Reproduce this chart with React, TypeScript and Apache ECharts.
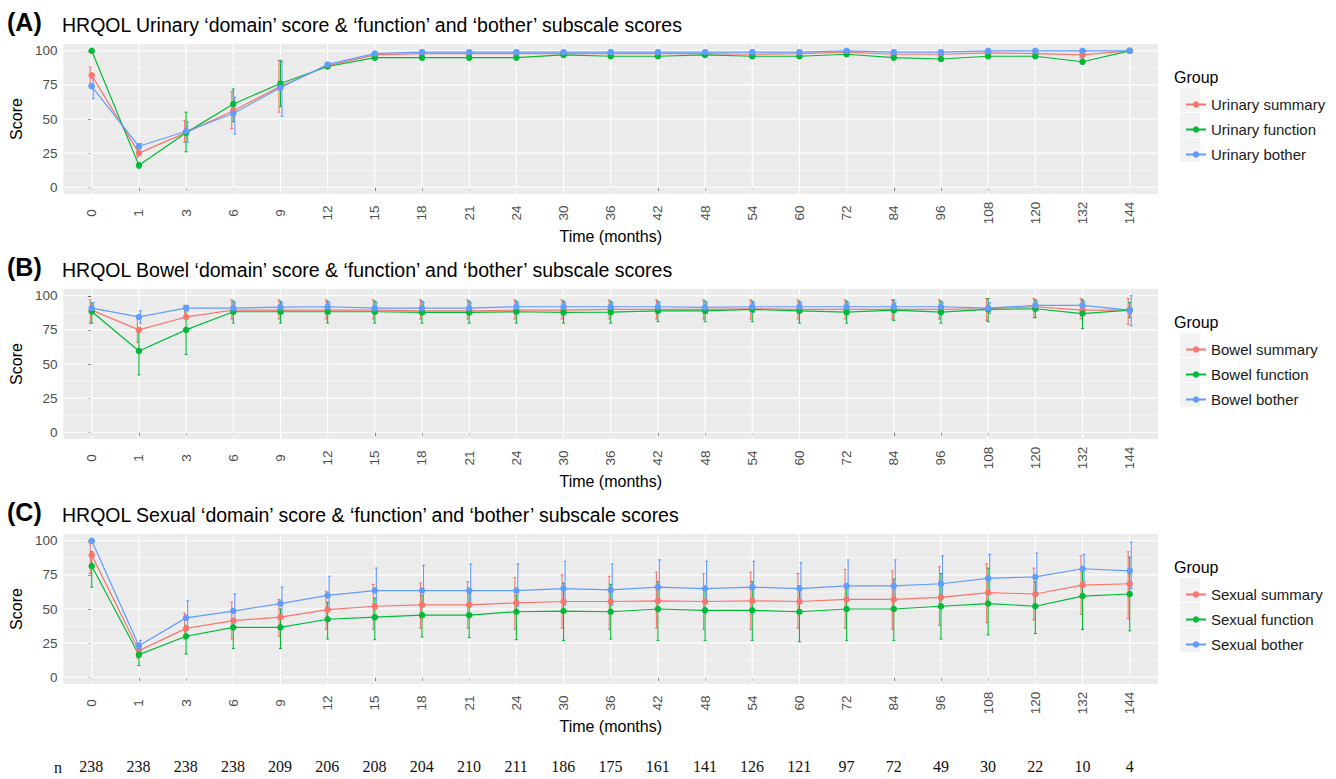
import React, { useEffect, useRef } from 'react';
import * as echarts from 'echarts';

const months = ['0', '1', '3', '6', '9', '12', '15', '18', '21', '24', '30', '36', '42', '48', '54', '60', '72', '84', '96', '108', '120', '132', '144'];
const nCounts = [238, 238, 238, 238, 209, 206, 208, 204, 210, 211, 186, 175, 161, 141, 126, 121, 97, 72, 49, 30, 22, 10, 4];
const yTicks = [0, 25, 50, 75, 100];
const yMinor = [12.5, 37.5, 62.5, 87.5];

// Panel A - Urinary
const urinarySummary = [82, 25, 40, 56, 74, 89, 97, 98, 98, 98, 98, 98, 98, 98, 97.5, 98, 99, 97.5, 97.5, 98.5, 98, 97, 100];
const urinarySummaryLow = [76, 22, 33, 43, 55, 87, 95.5, 96.5, 96.5, 96.5, 96.5, 96.5, 96.5, 96.5, 96, 96.5, 97.5, 96, 96, 97, 96.5, 95, 100];
const urinarySummaryHigh = [88, 28, 49, 70, 93, 91, 98.5, 99, 99, 99, 99, 99, 99, 99, 99, 99, 100, 99, 99, 100, 99.5, 99, 100];
const urinaryFunction = [100, 16, 40, 61, 76, 88.5, 95, 95, 95, 95, 97, 96, 96, 97, 96, 96, 97.5, 95, 94, 96, 96, 92, 100];
const urinaryFunctionLow = [100, 14, 26, 48, 59, 87, 93.5, 93.5, 93.5, 93.5, 95.5, 94.5, 94.5, 95.5, 94.5, 94.5, 96, 93.5, 92.5, 94.5, 94.5, 90, 100];
const urinaryFunctionHigh = [100, 18, 55, 72, 93, 90, 96.5, 96.5, 96.5, 96.5, 98.5, 97.5, 97.5, 98.5, 97.5, 97.5, 99, 96.5, 95.5, 97.5, 97.5, 94, 100];
const urinaryBother = [74, 30, 41, 54, 73, 90, 98, 99, 99, 99, 99, 99, 99, 99, 99, 99, 100, 99, 99, 100, 100, 100, 100];
const urinaryBotherLow = [65, 28, 33, 39, 52, 89, 97, 98, 98, 98, 98, 98, 98, 98, 98, 98, 99, 98, 98, 99, 99, 99, 100];
const urinaryBotherHigh = [80, 32, 48, 66, 92, 91, 99, 100, 100, 100, 100, 100, 100, 100, 100, 100, 100, 100, 100, 100, 100, 100, 100];

// Panel B - Bowel
const bowelSummary = [89.5, 75, 84.5, 89.5, 89.5, 89.5, 89.5, 89, 89, 89.5, 89.5, 90, 90, 90, 90.5, 90, 90, 90, 90, 90.5, 92, 89.5, 89.5];
const bowelSummaryLow = [80, 66, 84, 83, 83, 83, 83, 83, 83, 83, 83, 83, 83, 83, 83, 83, 83, 83, 83, 82, 84, 83, 79];
const bowelSummaryHigh = [97, 84, 93, 97, 97, 97, 97, 97, 97, 97, 97, 97, 97, 97, 97, 97, 97, 97, 97, 98, 98, 98, 98];
const bowelFunction = [88.5, 59.5, 75, 88.3, 88.3, 88.3, 88.3, 87.8, 87.8, 88.3, 87.8, 88, 89, 89, 90, 89, 88, 89.5, 88, 90, 90.5, 87, 89.5];
const bowelFunctionLow = [80, 42, 57, 80, 80, 80, 80, 80, 80, 80, 80, 80, 81, 81, 81, 80, 80, 82, 80, 81, 84, 76, 84];
const bowelFunctionHigh = [95, 76, 92, 96, 96, 96, 96, 96, 96, 96, 96, 96, 96, 96, 96, 96, 96, 97, 96, 98, 97, 97, 95];
const bowelBother = [91, 84.5, 91, 91, 91.7, 92, 91, 91, 91, 92, 92, 92, 92, 91.5, 92, 92, 92, 92, 92, 91, 93, 93, 89.5];
const bowelBotherLow = [87, 80, 89, 87, 87, 87, 87, 87, 87, 88, 88, 88, 88, 87, 88, 88, 88, 88, 88, 87, 89, 90, 78];
const bowelBotherHigh = [95, 89, 93, 95, 95, 95, 95, 95, 95, 95, 95, 95, 95, 95, 95, 95, 95, 95, 95, 95, 96, 96, 100];

// Panel C - Sexual
const sexualSummary = [89.5, 19.5, 35.8, 41.5, 44, 49.5, 52, 53, 53, 54.5, 55.5, 55.5, 56, 55.5, 56, 55.5, 57, 57, 58.5, 62, 61, 67.5, 68.5];
const sexualSummaryLow = [76, 14, 28, 28, 30, 35, 35, 36, 36, 35, 36, 35, 36, 35, 35, 36, 36, 35, 38, 40, 42, 46, 43];
const sexualSummaryHigh = [98, 25, 47, 55, 57, 63, 68, 69, 70, 73, 75, 74, 77, 76, 77, 76, 79, 78, 81, 83, 80, 89, 92];
const sexualFunction = [81.5, 16.5, 30, 36.5, 36.5, 42.5, 44, 45.5, 45.5, 48, 48.5, 48, 50, 49, 49, 48, 50, 50, 52, 54, 52, 59.5, 61];
const sexualFunctionLow = [66, 8.5, 17, 21, 21, 28, 27.5, 29.5, 29, 27.5, 27, 28, 27, 27, 27, 26, 27, 27, 28, 31, 32, 35, 34];
const sexualFunctionHigh = [92, 22, 38, 41, 50, 55, 58, 60, 62, 60, 69, 68, 70, 65, 70, 67, 68, 72, 76, 80, 70, 81, 88];
const sexualBother = [100, 23, 43.5, 48.5, 54, 60, 63.5, 63.5, 63.5, 63.5, 65, 64, 66, 65, 66, 65, 67, 67, 68.5, 72.5, 73.5, 79.5, 78];
const sexualBotherLow = [100, 20, 37, 40, 43, 50, 50, 52, 52, 52, 53, 53, 55, 54, 55, 54, 56, 56, 58, 62, 62, 70, 65];
const sexualBotherHigh = [100, 27, 56, 61, 66, 74, 80, 82, 83, 83, 85, 83, 86, 85, 85, 84, 86, 86, 89, 90, 91, 90, 99];

const panels = [
  {
    label: '(A)',
    title: 'HRQOL Urinary \u2018domain\u2019 score & \u2018function\u2019 and \u2018bother\u2019 subscale scores',
    names: ['Urinary summary', 'Urinary function', 'Urinary bother'],
    means: [urinarySummary, urinaryFunction, urinaryBother],
    lows: [urinarySummaryLow, urinaryFunctionLow, urinaryBotherLow],
    highs: [urinarySummaryHigh, urinaryFunctionHigh, urinaryBotherHigh],
  },
  {
    label: '(B)',
    title: 'HRQOL Bowel \u2018domain\u2019 score & \u2018function\u2019 and \u2018bother\u2019 subscale scores',
    names: ['Bowel summary', 'Bowel function', 'Bowel bother'],
    means: [bowelSummary, bowelFunction, bowelBother],
    lows: [bowelSummaryLow, bowelFunctionLow, bowelBotherLow],
    highs: [bowelSummaryHigh, bowelFunctionHigh, bowelBotherHigh],
  },
  {
    label: '(C)',
    title: 'HRQOL Sexual \u2018domain\u2019 score & \u2018function\u2019 and \u2018bother\u2019 subscale scores',
    names: ['Sexual summary', 'Sexual function', 'Sexual bother'],
    means: [sexualSummary, sexualFunction, sexualBother],
    lows: [sexualSummaryLow, sexualFunctionLow, sexualBotherLow],
    highs: [sexualSummaryHigh, sexualFunctionHigh, sexualBotherHigh],
  },
];

const COLORS = ['#F8766D', '#00BA38', '#619CFF'];
const OFFSETS = [-1.5, 0, 1.5];
const FONT = 'Liberation Sans, Arial, sans-serif';
const GRID_LEFT = 63;
const GRID_WIDTH = 1095;
const GRID_TOPS = [44, 289, 534];
const GRID_H = 150;
const LEGEND_X = 1180;

function buildOption() {
  const idx = months.map((_, i) => i);
  const grids: any[] = [];
  const xAxes: any[] = [];
  const yAxes: any[] = [];
  const series: any[] = [];
  const legends: any[] = [];
  const graphics: any[] = [];

  panels.forEach((p, pi) => {
    const top = GRID_TOPS[pi];
    grids.push({ left: GRID_LEFT, width: GRID_WIDTH, top, height: GRID_H, show: true, backgroundColor: '#EBEBEB', borderWidth: 0 });
    xAxes.push({
      type: 'value', gridIndex: pi, min: -0.6, max: 22.6,
      axisLine: { show: false },
      splitLine: { show: false },
      axisTick: { show: true, customValues: idx, length: 4, lineStyle: { color: '#333', width: 1 } },
      axisLabel: {
        customValues: idx, rotate: 90, align: 'center', verticalAlign: 'middle', margin: 19,
        formatter: (v: number) => months[Math.round(v)], color: '#4D4D4D', fontSize: 13.5, fontFamily: FONT,
      },
      name: 'Time (months)', nameLocation: 'middle', nameGap: 34,
      nameTextStyle: { fontSize: 16, color: '#000', fontFamily: FONT },
    });
    yAxes.push({
      type: 'value', gridIndex: pi, min: -5, max: 105,
      axisLine: { show: false },
      splitLine: { show: false },
      axisTick: { show: true, customValues: yTicks, length: 4, lineStyle: { color: '#333', width: 1 } },
      axisLabel: { customValues: yTicks, color: '#4D4D4D', fontSize: 13.5, fontFamily: FONT, margin: 6 },
      name: 'Score', nameLocation: 'middle', nameGap: 36, nameRotate: 90,
      nameTextStyle: { fontSize: 16, color: '#000', fontFamily: FONT },
    });

    // gridlines
    series.push({
      type: 'custom', xAxisIndex: pi, yAxisIndex: pi, z: 1, silent: true,
      data: idx.map((i) => [i, 0]),
      renderItem: (params: any, api: any) => {
        const cs = params.coordSys;
        const x = api.coord([api.value(0), 0])[0];
        return { type: 'line', shape: { x1: x, y1: cs.y, x2: x, y2: cs.y + cs.height }, style: { stroke: '#FFFFFF', lineWidth: 1.1 } };
      },
    });
    series.push({
      type: 'custom', xAxisIndex: pi, yAxisIndex: pi, z: 1, silent: true,
      data: [...yTicks.map((v) => [0, v, 1]), ...yMinor.map((v) => [0, v, 0])],
      renderItem: (params: any, api: any) => {
        const cs = params.coordSys;
        const y = api.coord([0, api.value(1)])[1];
        const major = api.value(2) === 1;
        return { type: 'line', shape: { x1: cs.x, y1: y, x2: cs.x + cs.width, y2: y }, style: { stroke: '#FFFFFF', lineWidth: major ? 1.1 : 0.6 } };
      },
    });

    p.names.forEach((name, k) => {
      const low = p.lows[k];
      const high = p.highs[k];
      series.push({
        type: 'custom', xAxisIndex: pi, yAxisIndex: pi, z: 3, silent: true,
        data: idx.map((i) => [i, low[i], high[i]]),
        encode: { x: 0, y: [1, 2] },
        renderItem: (params: any, api: any) => {
          const i = api.value(0);
          const a = api.coord([i, api.value(1)]);
          const b = api.coord([i, api.value(2)]);
          const x = a[0] + OFFSETS[k];
          const style = { stroke: COLORS[k], lineWidth: 1.1 };
          return {
            type: 'group',
            children: [
              { type: 'line', shape: { x1: x, y1: a[1], x2: x, y2: b[1] }, style },
              { type: 'line', shape: { x1: x - 1.5, y1: a[1], x2: x + 1.5, y2: a[1] }, style },
              { type: 'line', shape: { x1: x - 1.5, y1: b[1], x2: x + 1.5, y2: b[1] }, style },
            ],
          };
        },
      });
    });
    p.names.forEach((name, k) => {
      series.push({
        type: 'line', name, xAxisIndex: pi, yAxisIndex: pi, z: 4,
        data: idx.map((i) => [i, p.means[k][i]]),
        symbol: 'circle', symbolSize: 6.5, showSymbol: true,
        lineStyle: { color: COLORS[k], width: 1.2 },
        itemStyle: { color: COLORS[k] },
        emphasis: { disabled: true },
      });
    });

    const legendTop = top + 47;
    legends.push({
      data: p.names, orient: 'vertical', left: LEGEND_X, top: legendTop,
      itemWidth: 20, itemHeight: 8, itemGap: 8,
      textStyle: { fontSize: 15, color: '#1A1A1A', fontFamily: FONT, lineHeight: 17 },
      selectedMode: false,
    });
    [0, 1, 2].forEach((r) => {
      graphics.push({
        type: 'rect', z: -1, shape: { x: LEGEND_X, y: legendTop - 3 + r * 25, width: 20, height: 24 },
        style: { fill: '#F2F2F2' },
      });
    });
    graphics.push({ type: 'text', x: LEGEND_X - 6, y: top + 33, style: { text: 'Group', font: `16px ${FONT}`, fill: '#000', verticalAlign: 'middle' } });
    graphics.push({ type: 'text', x: 7, y: top - 22, style: { text: p.label, font: `bold 25px ${FONT}`, fill: '#000', verticalAlign: 'middle' } });
    graphics.push({ type: 'text', x: 62, y: top - 19, style: { text: p.title, font: `19.5px ${FONT}`, fill: '#000', verticalAlign: 'middle' } });
  });

  // n row
  grids.push({ left: GRID_LEFT, width: GRID_WIDTH, top: 752, height: 1, show: false });
  xAxes.push({
    type: 'value', gridIndex: 3, min: -0.6, max: 22.6,
    axisLine: { show: false }, axisTick: { show: false }, splitLine: { show: false },
    axisLabel: {
      customValues: idx, margin: 5,
      formatter: (v: number) => String(nCounts[Math.round(v)]),
      color: '#111', fontSize: 16, fontFamily: 'Liberation Serif, serif',
    },
  });
  yAxes.push({ type: 'value', gridIndex: 3, show: false, min: 0, max: 1 });
  graphics.push({ type: 'text', x: 54, y: 767, style: { text: 'n', font: '16px Liberation Serif, serif', fill: '#111', verticalAlign: 'middle' } });

  return {
    animation: false,
    backgroundColor: '#FFFFFF',
    grid: grids,
    xAxis: xAxes,
    yAxis: yAxes,
    legend: legends,
    series,
    graphic: graphics,
  };
}

export default function App() {
  const ref = useRef<HTMLDivElement>(null);
  useEffect(() => {
    document.body.style.margin = '0';
    if (!ref.current) return;
    const chart = echarts.init(ref.current, null, { renderer: 'svg' });
    chart.setOption(buildOption() as any);
    return () => chart.dispose();
  }, []);
  return <div ref={ref} style={{ width: 1336, height: 779 }} />;
}
